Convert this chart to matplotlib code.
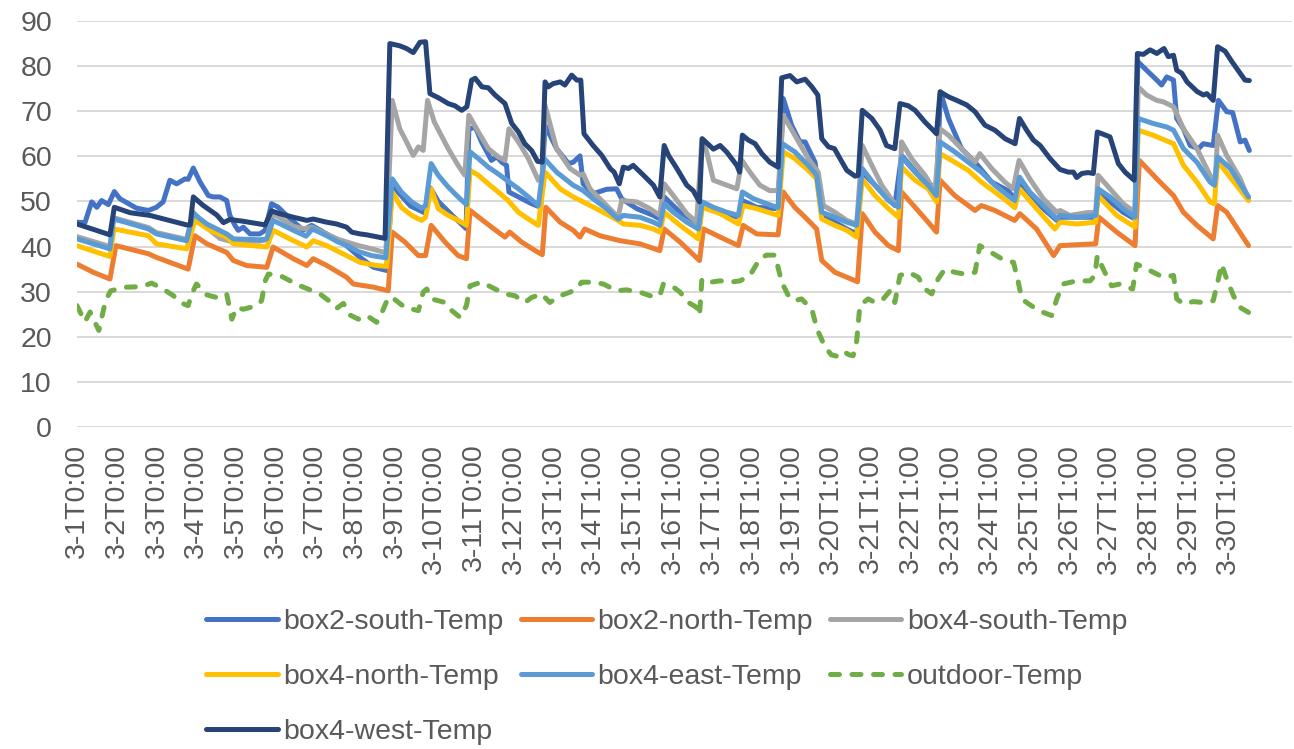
import matplotlib
matplotlib.use("Agg")
import matplotlib.pyplot as plt

plt.rcParams['font.family'] = ['Liberation Sans', 'DejaVu Sans']

# (day since 3-1 0:00, temperature)
box2_south = [(0.0,45.4),(0.2,45.3),(0.37,49.9),(0.5,48.7),(0.62,50.2),(0.79,49.3),(0.94,52.2),(1.08,50.6),(1.5,48.5),(1.8,48.0),(2.0,48.7),(2.17,49.9),(2.34,54.7),(2.51,53.9),(2.72,55.0),(2.8,54.9),(2.93,57.4),(3.1,54.3),(3.31,51.3),(3.43,51.0),(3.6,51.0),(3.77,50.2),(3.85,46.9),(3.98,44.7),(4.06,43.6),(4.19,44.3),(4.36,42.8),(4.6,42.8),(4.74,43.6),(4.9,49.5),(5.07,48.7),(5.28,46.9),(5.7,43.6),(5.91,44.7),(6.29,42.8),(6.79,40.2),(7.13,37.6),(7.47,35.4),(7.8,34.7),(7.94,53.5),(8.4,49.0),(8.75,47.5),(8.9,53.0),(9.1,50.0),(9.5,46.5),(9.8,44.0),(9.87,66.0),(10.03,66.5),(10.19,63.2),(10.44,59.1),(10.57,59.9),(10.7,58.7),(10.82,58.0),(10.88,52.1),(11.12,51.0),(11.45,49.5),(11.68,48.7),(11.79,66.9),(12.08,61.7),(12.38,58.4),(12.5,58.7),(12.67,60.1),(12.75,53.9),(13.0,51.7),(13.34,52.7),(13.59,52.8),(13.72,50.6),(14.1,48.4),(14.52,46.9),(14.68,46.1),(14.79,51.0),(15.19,47.6),(15.61,45.4),(15.75,49.5),(16.2,47.6),(16.66,46.5),(16.76,50.2),(17.12,48.7),(17.66,48.4),(17.79,72.8),(18.0,66.9),(18.21,63.2),(18.34,63.2),(18.59,58.7),(18.76,46.9),(19.09,45.4),(19.39,43.9),(19.64,42.8),(19.78,56.5),(20.27,52.1),(20.6,49.1),(20.77,60.2),(21.28,55.0),(21.65,52.8),(21.75,74.3),(21.95,68.4),(22.28,61.7),(22.62,58.7),(23.04,54.3),(23.45,52.4),(23.62,50.6),(23.74,54.3),(24.34,48.4),(24.68,45.8),(24.76,46.5),(25.66,46.5),(25.72,52.1),(26.35,47.6),(26.65,46.1),(26.72,81.0),(26.94,79.1),(27.2,76.9),(27.32,75.8),(27.45,77.6),(27.62,76.9),(27.7,68.4),(27.87,66.1),(28.04,62.4),(28.25,61.7),(28.37,62.8),(28.62,62.4),(28.75,72.4),(28.96,69.9),(29.11,69.7),(29.3,63.2),(29.42,63.6),(29.53,61.3)]

box2_north = [(0.0,36.1),(0.41,34.3),(0.83,32.8),(0.98,40.2),(1.8,38.4),(2.0,37.6),(2.8,35.0),(2.97,42.4),(3.27,40.6),(3.77,38.7),(3.94,36.9),(4.27,35.8),(4.78,35.4),(4.94,39.9),(5.45,37.3),(5.79,35.8),(5.95,37.3),(6.29,35.8),(6.79,33.2),(6.96,31.7),(7.47,31.0),(7.84,30.2),(7.94,43.2),(8.26,41.0),(8.6,38.0),(8.78,38.0),(8.92,44.7),(9.27,41.0),(9.6,38.0),(9.81,37.3),(9.9,48.0),(10.28,45.4),(10.61,43.2),(10.78,42.1),(10.9,43.2),(11.2,41.0),(11.54,39.1),(11.72,38.2),(11.81,48.7),(12.17,45.4),(12.5,43.6),(12.67,42.1),(12.79,43.9),(13.17,42.4),(13.68,41.3),(14.18,40.6),(14.68,39.1),(14.79,43.9),(15.19,41.0),(15.68,36.9),(15.78,43.9),(16.2,42.1),(16.66,40.2),(16.78,44.7),(17.12,42.8),(17.66,42.6),(17.79,52.1),(18.08,48.7),(18.34,46.5),(18.63,43.9),(18.76,36.9),(19.09,34.3),(19.39,33.2),(19.66,32.2),(19.78,47.3),(20.1,43.2),(20.44,40.2),(20.69,39.1),(20.77,52.1),(21.11,48.7),(21.44,45.4),(21.65,43.2),(21.74,54.7),(22.11,51.3),(22.62,48.0),(22.78,49.1),(23.12,48.0),(23.62,45.8),(23.75,47.3),(24.17,43.9),(24.6,38.0),(24.76,40.2),(25.18,40.4),(25.66,40.6),(25.74,46.5),(26.19,43.2),(26.65,40.2),(26.76,59.1),(27.2,55.0),(27.62,51.3),(27.87,47.6),(28.21,44.7),(28.62,41.7),(28.73,49.1),(28.96,47.6),(29.51,40.2)]

box4_south = [(0.0,42.2),(0.83,40.0),(0.92,46.4),(1.8,44.2),(2.0,43.1),(2.76,41.6),(2.93,47.6),(3.3,44.0),(3.6,41.8),(3.94,41.0),(4.6,41.2),(4.78,41.5),(4.94,47.3),(5.45,44.5),(5.74,43.9),(5.91,44.3),(6.58,41.6),(7.09,40.2),(7.42,39.5),(7.78,38.6),(7.94,72.4),(8.13,66.1),(8.26,63.9),(8.47,60.2),(8.6,62.1),(8.72,61.3),(8.83,72.4),(9.0,67.6),(9.35,61.7),(9.6,58.0),(9.77,55.8),(9.87,69.1),(10.11,65.4),(10.36,61.7),(10.61,59.9),(10.78,59.1),(10.88,66.1),(11.12,63.2),(11.37,59.5),(11.62,54.7),(11.72,55.8),(11.79,71.3),(12.08,61.7),(12.42,57.3),(12.67,55.8),(12.75,56.1),(12.92,52.8),(13.34,49.1),(13.63,46.5),(13.72,50.2),(14.1,49.9),(14.43,48.4),(14.68,46.9),(14.79,53.9),(15.02,51.3),(15.36,47.3),(15.61,45.4),(15.74,63.9),(15.86,61.0),(16.03,54.7),(16.37,53.6),(16.62,52.8),(16.75,59.1),(16.95,56.5),(17.2,53.6),(17.45,52.4),(17.66,52.4),(17.79,69.1),(18.08,64.7),(18.42,59.5),(18.67,56.5),(18.8,49.1),(19.09,47.6),(19.39,45.8),(19.64,45.0),(19.78,62.4),(20.02,58.0),(20.27,53.6),(20.56,49.9),(20.71,49.1),(20.77,63.2),(21.02,59.5),(21.36,55.8),(21.61,52.1),(21.74,66.1),(21.95,64.7),(22.28,61.7),(22.62,58.7),(22.74,60.6),(23.04,57.3),(23.37,54.3),(23.58,52.8),(23.73,59.1),(24.0,55.0),(24.34,50.6),(24.68,47.6),(24.76,48.0),(25.01,46.9),(25.43,47.5),(25.66,47.6),(25.72,55.8),(26.02,52.8),(26.35,49.5),(26.65,47.6),(26.73,75.4),(26.94,73.6),(27.2,72.4),(27.36,72.1),(27.62,71.0),(27.87,66.1),(28.21,61.7),(28.54,55.8),(28.67,54.3),(28.73,64.7),(28.96,60.2),(29.3,55.0),(29.51,50.6)]

box4_north = [(0.0,40.2),(0.41,39.0),(0.83,37.8),(0.93,43.9),(1.8,42.4),(2.0,40.6),(2.76,39.5),(2.97,45.8),(3.35,43.6),(3.77,42.1),(3.94,40.6),(4.78,39.9),(4.94,43.6),(5.45,41.3),(5.79,39.9),(5.95,41.3),(6.29,40.2),(6.79,38.0),(7.13,36.5),(7.55,35.8),(7.8,35.6),(7.94,52.1),(8.17,48.7),(8.43,46.9),(8.68,45.8),(8.78,46.5),(8.92,52.8),(9.1,48.4),(9.35,46.9),(9.6,45.8),(9.81,44.7),(9.9,56.9),(10.11,55.8),(10.36,53.9),(10.61,52.1),(10.86,50.2),(11.12,47.6),(11.37,46.1),(11.62,44.7),(11.79,56.5),(12.17,52.8),(12.5,51.0),(12.75,49.9),(13.17,48.0),(13.63,45.8),(13.76,45.0),(14.18,44.7),(14.52,43.9),(14.68,43.2),(14.79,47.6),(15.19,44.7),(15.65,41.7),(15.75,48.7),(16.2,47.3),(16.66,45.0),(16.78,49.1),(17.12,48.4),(17.66,46.9),(17.79,61.0),(18.08,59.5),(18.42,56.9),(18.63,55.0),(18.76,46.1),(19.09,44.7),(19.39,43.6),(19.64,42.1),(19.78,55.0),(20.1,51.3),(20.44,48.4),(20.69,46.5),(20.77,57.6),(21.11,54.7),(21.44,52.8),(21.65,49.9),(21.74,60.6),(22.11,58.7),(22.45,56.9),(22.78,54.3),(23.12,52.1),(23.45,49.9),(23.62,48.6),(23.74,52.8),(24.17,48.4),(24.63,43.9),(24.76,45.4),(25.18,45.0),(25.66,45.4),(25.72,51.3),(26.19,46.9),(26.65,44.3),(26.73,65.8),(27.1,64.7),(27.62,62.8),(27.87,58.0),(28.21,54.3),(28.54,49.9),(28.65,49.5),(28.73,58.9),(29.51,50.2)]

box4_east = [(0.0,41.7),(0.83,39.5),(0.92,46.1),(1.3,45.2),(1.8,43.9),(2.0,42.8),(2.76,41.3),(2.93,47.3),(3.27,45.0),(3.77,42.8),(3.94,41.7),(4.6,41.5),(4.78,41.7),(4.94,45.8),(5.45,43.6),(5.77,42.3),(5.93,43.9),(6.29,42.4),(6.58,41.0),(6.79,40.3),(7.09,38.9),(7.42,38.0),(7.78,37.5),(7.94,55.0),(8.17,52.1),(8.43,49.9),(8.68,48.5),(8.78,49.1),(8.92,58.4),(9.1,55.8),(9.35,53.2),(9.6,51.0),(9.81,49.3),(9.9,61.0),(10.11,59.5),(10.36,57.6),(10.61,56.1),(10.78,55.0),(11.12,52.8),(11.37,51.0),(11.62,49.1),(11.77,59.5),(12.08,56.5),(12.5,53.6),(12.75,52.4),(13.0,50.6),(13.34,48.4),(13.63,46.1),(13.76,46.9),(14.18,46.5),(14.52,45.4),(14.68,44.7),(14.79,49.5),(15.02,47.6),(15.36,45.4),(15.65,43.9),(15.75,49.9),(16.03,48.7),(16.37,47.6),(16.66,46.9),(16.76,52.1),(17.04,50.6),(17.37,49.5),(17.66,48.6),(17.77,62.8),(18.08,61.0),(18.42,58.0),(18.63,55.8),(18.76,47.6),(19.09,46.5),(19.39,45.4),(19.64,44.7),(19.78,57.3),(20.1,53.6),(20.44,50.2),(20.69,48.7),(20.77,59.9),(21.11,56.5),(21.44,53.6),(21.65,51.3),(21.74,63.2),(22.11,61.0),(22.45,58.7),(22.78,56.5),(23.12,53.6),(23.45,51.3),(23.62,50.2),(23.74,55.4),(24.0,52.1),(24.34,49.1),(24.68,46.1),(24.76,46.9),(25.18,46.5),(25.66,46.9),(25.72,52.8),(26.02,51.0),(26.35,48.4),(26.65,46.5),(26.73,68.4),(27.1,67.3),(27.45,66.5),(27.62,65.8),(27.87,61.7),(28.21,58.7),(28.54,54.3),(28.65,53.6),(28.73,59.9),(29.05,57.3),(29.51,51.0)]

outdoor = [(0.0,26.9),(0.2,23.3),(0.33,25.5),(0.55,21.4),(0.72,28.0),(0.85,30.2),(1.25,31.0),(1.63,31.1),(1.88,31.9),(2.17,30.6),(2.43,29.1),(2.6,27.6),(2.8,26.9),(2.89,29.5),(3.01,31.7),(3.27,29.3),(3.52,28.7),(3.77,29.5),(3.9,23.9),(4.02,26.5),(4.19,26.1),(4.53,26.9),(4.65,28.0),(4.74,32.4),(4.82,33.9),(5.11,33.6),(5.37,32.4),(5.62,31.3),(5.87,30.4),(6.12,29.5),(6.37,27.8),(6.54,26.3),(6.71,27.4),(6.88,24.8),(7.09,23.9),(7.3,24.7),(7.55,23.2),(7.7,25.8),(7.84,28.7),(7.97,28.5),(8.26,26.5),(8.6,25.8),(8.72,29.9),(8.81,30.6),(8.93,28.4),(9.27,27.6),(9.44,25.8),(9.65,24.3),(9.81,26.9),(9.9,31.3),(10.19,32.1),(10.44,31.0),(10.78,29.5),(11.03,29.1),(11.28,27.6),(11.45,28.7),(11.7,29.5),(11.91,27.6),(12.17,29.1),(12.42,29.9),(12.59,30.6),(12.71,32.1),(13.0,32.1),(13.26,31.7),(13.59,30.2),(13.84,30.4),(14.18,29.9),(14.43,29.1),(14.68,29.1),(14.77,31.7),(14.98,31.3),(15.19,29.9),(15.4,27.6),(15.61,26.5),(15.68,24.7),(15.74,32.8),(15.95,32.1),(16.2,32.4),(16.45,32.1),(16.7,32.4),(16.95,33.6),(17.2,37.3),(17.37,38.1),(17.58,38.1),(17.67,35.0),(17.75,32.1),(17.92,29.1),(18.08,28.0),(18.25,28.4),(18.51,26.1),(18.64,21.7),(18.84,17.8),(19.0,16.0),(19.14,15.7),(19.3,16.8),(19.45,16.0),(19.55,15.8),(19.64,19.1),(19.72,27.0),(19.93,28.4),(20.1,27.6),(20.31,28.4),(20.48,30.2),(20.6,27.6),(20.73,33.6),(20.94,34.3),(21.19,33.2),(21.36,30.6),(21.53,29.5),(21.69,32.8),(21.86,35.0),(22.11,34.3),(22.36,33.9),(22.62,34.3),(22.74,40.2),(22.95,39.1),(23.29,37.3),(23.59,36.5),(23.71,32.1),(23.8,28.4),(23.92,27.6),(24.17,26.1),(24.34,25.4),(24.55,24.7),(24.68,28.4),(24.84,31.7),(25.18,32.4),(25.52,32.4),(25.64,33.6),(25.7,38.0),(25.85,35.0),(26.06,31.3),(26.27,31.7),(26.44,31.0),(26.59,30.6),(26.69,36.1),(26.86,35.4),(27.11,34.3),(27.36,33.2),(27.62,33.6),(27.7,28.4),(27.87,27.3),(28.12,27.8),(28.37,27.6),(28.62,28.0),(28.75,32.8),(28.83,36.1),(28.96,32.8),(29.13,29.1),(29.3,26.5),(29.51,25.4)]

box4_west = [(0.0,45.0),(0.83,42.6),(0.94,48.7),(1.34,47.5),(1.84,46.9),(2.76,44.8),(2.85,44.8),(2.93,51.0),(3.18,49.1),(3.52,47.0),(3.69,45.3),(3.85,46.0),(4.19,45.6),(4.74,44.8),(4.9,47.9),(5.1,47.3),(5.45,46.5),(5.79,45.8),(5.95,46.1),(6.29,45.4),(6.54,45.0),(6.79,44.3),(6.92,43.2),(7.13,42.8),(7.3,42.6),(7.76,41.8),(7.88,85.0),(8.13,84.5),(8.3,83.9),(8.47,83.0),(8.64,85.3),(8.78,85.4),(8.89,73.9),(9.1,73.0),(9.35,71.7),(9.52,71.2),(9.69,70.2),(9.82,71.0),(9.94,76.9),(10.03,77.3),(10.2,75.4),(10.36,75.2),(10.53,73.6),(10.78,71.7),(10.95,67.3),(11.12,65.4),(11.28,62.8),(11.45,61.3),(11.6,58.9),(11.72,58.7),(11.79,76.5),(11.87,75.4),(11.99,76.1),(12.17,76.5),(12.29,75.8),(12.46,78.0),(12.59,76.9),(12.69,76.9),(12.77,65.0),(13.0,62.4),(13.22,60.2),(13.43,57.3),(13.53,56.5),(13.66,53.9),(13.76,57.6),(13.89,57.3),(14.01,58.0),(14.27,55.8),(14.52,53.6),(14.68,51.0),(14.79,62.4),(14.9,60.2),(15.11,57.3),(15.36,53.6),(15.52,52.4),(15.68,49.9),(15.75,63.9),(16.03,61.6),(16.2,62.4),(16.37,60.9),(16.62,58.0),(16.69,56.5),(16.76,64.7),(16.91,63.6),(17.08,62.8),(17.25,60.6),(17.45,58.7),(17.66,57.6),(17.75,77.4),(17.96,77.9),(18.13,76.5),(18.34,77.1),(18.51,75.4),(18.66,73.6),(18.76,63.9),(18.93,62.1),(19.08,61.7),(19.22,59.5),(19.39,56.9),(19.6,55.6),(19.68,55.8),(19.78,70.2),(20.02,68.4),(20.23,65.8),(20.39,62.4),(20.6,61.7),(20.73,71.7),(20.94,71.2),(21.11,70.2),(21.36,67.6),(21.53,66.1),(21.65,65.0),(21.74,74.3),(21.95,73.2),(22.16,72.4),(22.41,71.4),(22.62,69.9),(22.87,66.9),(23.12,65.8),(23.38,63.9),(23.63,62.8),(23.74,68.4),(23.92,65.8),(24.09,63.6),(24.26,62.4),(24.51,59.5),(24.76,57.1),(24.97,56.5),(25.1,56.5),(25.18,55.3),(25.31,56.2),(25.47,56.4),(25.6,56.2),(25.7,65.4),(25.85,64.9),(26.02,64.3),(26.23,58.4),(26.4,56.5),(26.63,54.7),(26.71,82.8),(26.86,82.6),(27.03,83.6),(27.2,82.8),(27.38,83.9),(27.49,82.1),(27.62,82.4),(27.7,79.1),(27.83,78.4),(27.96,76.5),(28.21,74.4),(28.37,73.6),(28.46,73.9),(28.62,72.4),(28.73,84.3),(28.92,83.3),(29.09,81.0),(29.3,78.4),(29.42,76.9),(29.53,76.8)]

names = ["box2-south-Temp", "box2-north-Temp", "box4-south-Temp",
         "box4-north-Temp", "box4-east-Temp", "outdoor-Temp", "box4-west-Temp"]
series = [box2_south, box2_north, box4_south, box4_north, box4_east, outdoor, box4_west]
colors = ["#4472C4", "#ED7D31", "#A5A5A5", "#FFC000", "#5B9BD5", "#70AD47", "#264478"]

day_labels = ["3-1T0:00", "3-2T0:00", "3-3T0:00", "3-4T0:00", "3-5T0:00", "3-6T0:00",
              "3-7T0:00", "3-8T0:00", "3-9T0:00", "3-10T0:00", "3-11T0:00", "3-12T0:00",
              "3-13T1:00", "3-14T1:00", "3-15T1:00", "3-16T1:00", "3-17T1:00", "3-18T1:00",
              "3-19T1:00", "3-20T1:00", "3-21T1:00", "3-22T1:00", "3-23T1:00", "3-24T1:00",
              "3-25T1:00", "3-26T1:00", "3-27T1:00", "3-28T1:00", "3-29T1:00", "3-30T1:00"]
y_ticks = [0, 10, 20, 30, 40, 50, 60, 70, 80, 90]

TXT = "#595959"
FS = 20.5
LW = 3.6

fig = plt.figure(figsize=(12.94, 7.49), dpi=100)
ax = fig.add_axes([77/1294, 1 - 427/749, (1292 - 77)/1294, (427 - 21)/749])

lines = []
for pts, name, c in zip(series, names, colors):
    t = [p[0] for p in pts]
    v = [p[1] for p in pts]
    if name.startswith("outdoor"):
        ln, = ax.plot(t, v, color=c, lw=LW, dashes=(1.8, 2.5), dash_capstyle='round',
                      dash_joinstyle='round', label=name)
    else:
        ln, = ax.plot(t, v, color=c, lw=LW, solid_capstyle='round',
                      solid_joinstyle='round', label=name)
    lines.append(ln)

ax.set_xlim(0, (1292 - 77)/39.7)
ax.set_ylim(0, 90)
ax.set_yticks(y_ticks)
ax.set_xticks(range(len(day_labels)))
ax.set_xticklabels(day_labels, rotation=90)
ax.grid(axis='y', color='#D9D9D9', lw=1.4)
ax.set_axisbelow(True)
for s in ax.spines.values():
    s.set_visible(False)
ax.tick_params(axis='both', length=0, labelcolor=TXT, labelsize=FS)
ax.tick_params(axis='x', pad=12)
ax.tick_params(axis='y', pad=18)

# row-major legend: reorder for matplotlib's column filling
order = [0, 3, 6, 1, 4, 2, 5]
fig.legend([lines[i] for i in order], [names[i] for i in order], ncol=3,
           loc='center', bbox_to_anchor=(667/1294, 1 - 677/749), frameon=False,
           fontsize=FS, labelcolor=TXT, handlelength=2.5, handletextpad=0.2,
           columnspacing=0.6, labelspacing=1.03, borderpad=0.2)

fig.savefig("out.png", dpi=100)
